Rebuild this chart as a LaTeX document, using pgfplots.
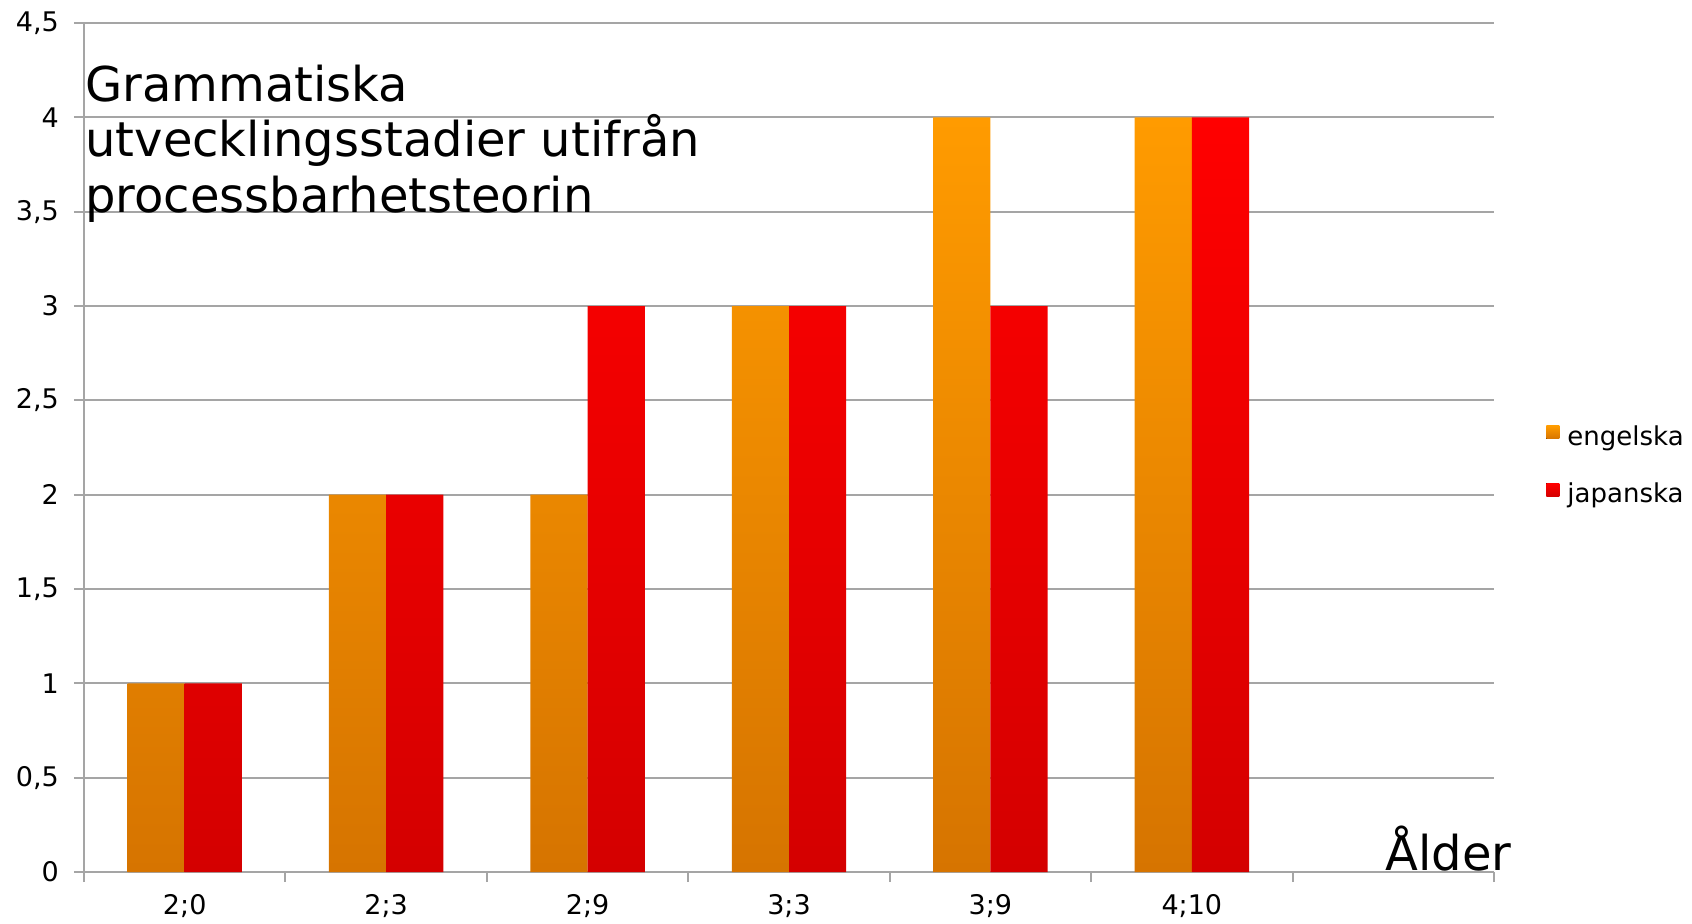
\documentclass[border=0pt]{standalone}
\usepackage{pgfplots}
\pgfplotsset{compat=1.18}
\usepackage{fontspec}
\setmainfont{DejaVu Sans}
\definecolor{gridgray}{RGB}{165,165,165}
\definecolor{orangetop}{RGB}{255,155,0}
\definecolor{orangebot}{RGB}{214,116,0}
\definecolor{redtop}{RGB}{255,0,0}
\definecolor{redbot}{RGB}{212,0,0}
\begin{document}
\begin{tikzpicture}
\begin{axis}[
  scale only axis, width=705pt, height=424.5pt,
  at={(0,0)}, anchor=south west,
  xmin=-0.5, xmax=6.5, ymin=0, ymax=4.5,
  axis lines*=left,
  axis line style={gridgray, line width=1pt},
  ytick={0,0.5,1,1.5,2,2.5,3,3.5,4,4.5},
  xtick={-0.5,0.5,1.5,2.5,3.5,4.5,5.5,6.5},
  x tick label as interval,
  xticklabels={2;0,2;3,2;9,3;3,3;9,4;10,{}},
  ymajorgrids, grid style={gridgray, line width=1pt},
  tick align=outside,
  major tick length=5pt,
  tick style={gridgray, line width=1pt},
  tick label style={font=\fontsize{13.5}{15}\selectfont, text=black},
  yticklabel style={xshift=-4pt},
  xticklabel style={yshift=-2.5pt},
  /pgf/number format/use comma,
  /pgf/number format/assume math mode=true,
  legend style={at={(1.0369,0.4766)}, anchor=west, draw=none, fill=none,
    inner sep=0pt, row sep=16pt, column sep=4pt,
    font=\fontsize{13}{15}\selectfont,
    nodes={inner sep=0pt, text height=9pt, text depth=3pt}},
  legend cell align=left,
  legend image code/.code={\fill[#1] (0pt,0.2pt) rectangle (6.5pt,6.7pt);},
]
\addplot[ybar, bar width=0.284, bar shift=-0.142, draw=none,
  top color=orangetop, bottom color=orangebot]
  coordinates {(0,1) (1,2) (2,2) (3,3) (4,4) (5,4)};
\addlegendentry{engelska}
\addplot[ybar, bar width=0.284, bar shift=0.142, draw=none,
  top color=redtop, bottom color=redbot]
  coordinates {(0,1) (1,2) (2,3) (3,3) (4,3) (5,4)};
\addlegendentry{japanska}
\end{axis}
\node[anchor=base west, inner sep=0pt, font=\fontsize{24}{28}\selectfont] at (0.5pt,385pt) {Grammatiska};
\node[anchor=base west, inner sep=0pt, font=\fontsize{24}{28}\selectfont] at (0.5pt,357.5pt) {utvecklingsstadier utifrån};
\node[anchor=base west, inner sep=0pt, font=\fontsize{24}{28}\selectfont] at (0.5pt,329.5pt) {processbarhetsteorin};
\node[anchor=base west, inner sep=0pt, font=\fontsize{24}{28}\selectfont] at (650.5pt,1pt) {Ålder};
\pgfresetboundingbox
\useasboundingbox (-42pt,-25.5pt) rectangle (804pt,436pt);
\end{tikzpicture}
\end{document}
